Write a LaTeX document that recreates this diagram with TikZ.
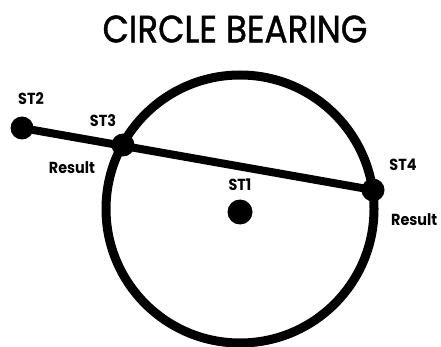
\documentclass[tikz,border=0pt]{standalone}
\usepackage{fontspec}
\setmainfont{Poppins}
\newfontfamily\ttlfont[FakeBold=1.2]{Poppins}
\begin{document}
\begin{tikzpicture}[x=1pt,y=-1pt,
  dot/.style={circle,fill=black,inner sep=0pt,minimum size=#1},
  lbl/.style={inner sep=0pt,xscale=0.9,font=\fontsize{16}{16}\selectfont\bfseries},
  ttl/.style={inner sep=0pt,font=\fontsize{38}{38}\ttlfont}]
\useasboundingbox (0,0) rectangle (441,347);
\draw[line width=9pt] (240,209) circle[radius=134];
\node[dot=23pt] (st2) at (22,128) {};
\node[dot=23pt] (st3) at (123,145) {};
\node[dot=23pt] (st4) at (373,190) {};
\node[dot=25pt] (st1) at (240,212) {};
\draw[line width=8pt] (st2.center) -- (st4.center);
\node[ttl,xscale=0.9] (t) at (235,29) {CIRCLE BEARING};
\node[lbl] (l2) at (31,99) {ST2};
\node[lbl] (l3) at (103,121) {ST3};
\node[lbl] (l4) at (403,165) {ST4};
\node[lbl] (l1) at (240,185) {ST1};
\node[lbl] (r1) at (72,168) {Result};
\node[lbl,anchor=west] (r2) at (391,220) {Result};
\end{tikzpicture}
\end{document}
